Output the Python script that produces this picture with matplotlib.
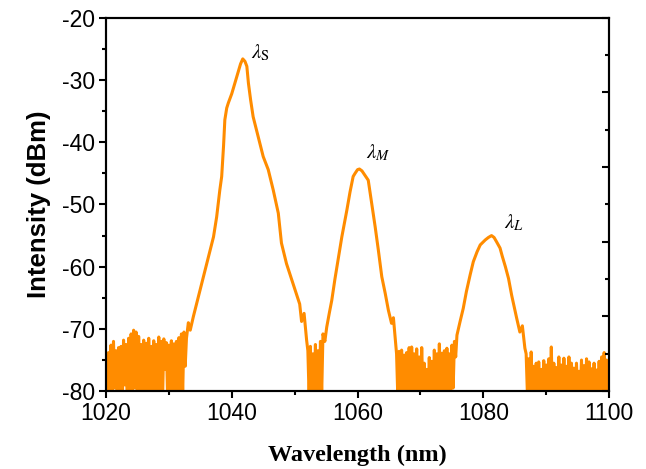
import numpy as np
import matplotlib.pyplot as plt
from matplotlib.ticker import MultipleLocator, FixedLocator

# noise floor segments: (first wavelength, last wavelength), readings evenly spaced
noise_left_span = (1020.0, 1032.6)
noise_left = [-74.5, -82, -73.8, -80.5, -72.6, -81, -72.0, -79.5, -73.5, -82,
              -73.0, -80.8, -72.8, -81.5, -71.8, -79, -72.5, -83, -71.5, -80,
              -70.8, -81, -70.2, -79.5, -70.5, -82.5, -71.2, -80.5, -72.5, -81,
              -71.8, -80, -72.3, -81.5, -71.5, -80.2, -72.8, -83, -71.9, -80.5,
              -72.5, -82, -71.3, -80.8, -72.0, -81.5, -71.6, -76.5, -72.2, -81,
              -72.6, -80.5, -71.9, -82, -72.4, -81, -72.0, -80.6, -71.4, -82.5,
              -70.8, -80.5, -70.5, -76.0]

noise_valley_span = (1052.1, 1054.5)
noise_valley = [-73.5, -81, -72.8, -82, -74.0, -81, -72.5, -83, -73.5, -81.5,
                -72.0, -80.5, -70.8]

noise_mid_span = (1066.2, 1075.6)
noise_mid = [-74.0, -81, -73.6, -82, -73.4, -80.5, -74.2, -81.5, -73.8, -80,
             -73.0, -82.5, -72.9, -81, -74.0, -80.5, -73.2, -82, -74.5, -81,
             -73.0, -80.2, -75.5, -82, -76.5, -81, -74.6, -80.5, -75.2, -82,
             -73.4, -80.8, -74.0, -81.5, -72.4, -80, -73.9, -82, -73.5, -81,
             -73.1, -80.5, -74.0, -81.5, -72.6, -79.5, -72.0, -74.5]

noise_right_span = (1086.8, 1100.0)
noise_right = [-74.0, -80.5, -74.8, -82, -73.7, -81, -76.0, -80.2, -75.5, -82,
               -75.3, -81, -76.5, -80.5, -75.1, -82, -75.8, -81, -74.8, -80.5,
               -72.9, -82, -75.5, -81, -76.2, -80.4, -74.5, -82, -75.8, -81,
               -74.7, -80.5, -76.0, -82.5, -74.5, -81, -75.5, -80.2, -76.3, -82,
               -75.5, -81, -76.8, -80.5, -75.0, -82, -75.9, -81, -74.8, -80.6,
               -75.3, -82, -76.4, -81, -75.5, -80.5, -76.6, -82, -75.2, -81,
               -74.5, -80.5, -73.8, -82, -75.0, -81, -76.3]

# the three lines
peak_s_wl = [1032.8, 1033.1, 1033.4, 1033.9, 1034.7, 1035.5, 1036.3, 1037.1,
             1037.6, 1038.1, 1038.4, 1038.7, 1038.9, 1039.2, 1039.45, 1040.0,
             1040.5, 1041.0, 1041.4, 1041.75, 1042.1, 1042.4, 1042.65, 1043.0,
             1043.4, 1044.2, 1045.0, 1045.8, 1046.6, 1047.4, 1047.9, 1048.7,
             1050.1, 1050.8, 1051.1, 1051.5, 1051.9]
peak_s_db = [-71.5, -69.0, -70.2, -68.0, -64.8, -61.6, -58.4, -55.2,
             -52.0, -47.7, -45.5, -40.5, -36.4, -34.5, -33.7, -32.2,
             -30.5, -28.8, -27.4, -26.6, -27.0, -27.8, -30.5, -33.2,
             -35.9, -39.1, -42.3, -44.4, -47.7, -51.4, -56.2, -59.5,
             -63.8, -66.0, -68.8, -67.5, -71.8]

peak_m_wl = [1054.8, 1055.1, 1055.5, 1055.9, 1056.4, 1056.9, 1057.5, 1058.3,
             1058.8, 1059.3, 1059.6, 1060.0, 1060.3, 1060.7, 1061.1, 1061.7,
             1062.2, 1062.8, 1063.3, 1063.85, 1064.4, 1064.9, 1065.4, 1065.7,
             1066.0]
peak_m_db = [-72.0, -69.7, -67.5, -65.4, -62.0, -58.9, -55.2, -50.9,
             -48.0, -45.5, -45.0, -44.4, -44.3, -44.6, -45.2, -46.1,
             -49.5, -53.6, -57.3, -61.6, -64.3, -67.0, -69.1, -68.2,
             -71.8]

peak_l_wl = [1075.8, 1076.3, 1076.8, 1077.3, 1077.9, 1078.4, 1079.0, 1079.5,
             1080.3, 1080.8, 1081.3, 1081.7, 1082.1, 1082.65, 1083.0, 1083.5,
             1084.0, 1084.5, 1085.3, 1085.8, 1086.2, 1086.6]
peak_l_db = [-71.0, -68.8, -66.7, -64.0, -61.3, -59.2, -57.6, -56.5,
             -55.7, -55.3, -55.0, -55.3, -56.0, -57.0, -58.3, -60.0,
             -61.9, -64.6, -68.3, -70.5, -69.5, -73.1]

labels = [r'$\lambda_{\mathrm{S}}$', r'$\lambda_{M}$', r'$\lambda_{L}$']
label_pos = [(1044.6, -25.6), (1063.3, -41.6), (1084.9, -52.9)]


def noise(span, values):
    return np.linspace(span[0], span[1], len(values)), np.array(values)


parts = [
    noise(noise_left_span, noise_left),
    (np.array(peak_s_wl), np.array(peak_s_db)),
    noise(noise_valley_span, noise_valley),
    (np.array(peak_m_wl), np.array(peak_m_db)),
    noise(noise_mid_span, noise_mid),
    (np.array(peak_l_wl), np.array(peak_l_db)),
    noise(noise_right_span, noise_right),
]
wl = np.concatenate([p[0] for p in parts])
power = np.concatenate([p[1] for p in parts])

plt.rcParams['mathtext.fontset'] = 'stix'
plt.rcParams['axes.unicode_minus'] = False

fig = plt.figure(figsize=(6.46, 4.69), dpi=100)
ax = fig.add_axes([0.164, 0.166, 0.779, 0.796])

ax.plot(wl, power, color='#FF8C00', lw=2.2)

ax.set_xlim(1020, 1100)
ax.set_ylim(-80, -20)

ax.xaxis.set_major_locator(MultipleLocator(20))
ax.xaxis.set_minor_locator(MultipleLocator(10))
ax.yaxis.set_major_locator(MultipleLocator(10))
ax.yaxis.set_minor_locator(MultipleLocator(5))
ax.tick_params(which='major', direction='out', length=5, width=1.5,
               labelsize=16.5, pad=3, top=False, right=False)
ax.tick_params(which='minor', direction='out', length=3, width=1.5,
               top=False, right=False)
for lab in ax.get_xticklabels() + ax.get_yticklabels():
    lab.set_fontfamily('Liberation Sans')

# right axis: inward ticks, no labels
ax2 = ax.twinx()
ax2.set_ylim(-80, -20)
ax2.yaxis.set_major_locator(FixedLocator([-80, -68, -56, -44, -32, -20]))
ax2.yaxis.set_minor_locator(FixedLocator([-74, -62, -50, -38, -26]))
ax2.tick_params(which='major', direction='in', length=5, width=1.5, labelright=False)
ax2.tick_params(which='minor', direction='in', length=3, width=1.5)

for a in (ax, ax2):
    for s in a.spines.values():
        s.set_linewidth(1.5)

ax.set_xlabel('Wavelength (nm)', fontsize=17.5, fontweight='bold',
              family='Liberation Serif', labelpad=14)
ax.set_ylabel('Intensity (dBm)', fontsize=18.5, fontweight='bold',
              family='Liberation Sans', labelpad=8)

for txt, (x, y) in zip(labels, label_pos):
    ax.text(x, y, txt, fontsize=15, ha='center', va='center')

fig.savefig('out.png', dpi=100)
